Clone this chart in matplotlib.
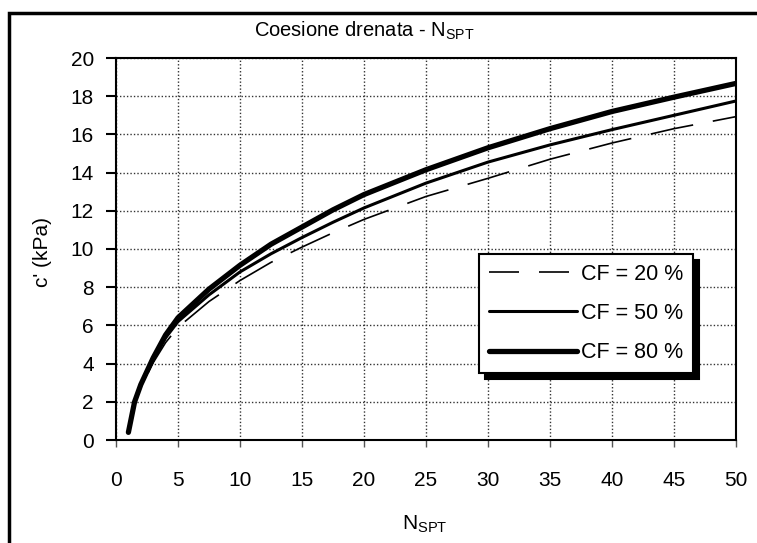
import matplotlib
matplotlib.use("Agg")
import matplotlib.pyplot as plt
from matplotlib.patches import Rectangle

plt.rcParams['font.family'] = ['Liberation Sans', 'DejaVu Sans']
plt.rcParams['mathtext.fontset'] = 'custom'
plt.rcParams['mathtext.rm'] = 'Liberation Sans'
plt.rcParams['mathtext.it'] = 'Liberation Sans'

# Data
n_spt = [1, 1.5, 2, 3, 4, 5, 7.5, 10, 12.5, 15, 17.5, 20, 25, 30, 35, 40, 45, 50]
cf20 = [0.4, 1.9, 2.75, 4.05, 5.1, 5.9, 7.25, 8.35, 9.3, 10.1, 10.85, 11.55, 12.75, 13.7, 14.7, 15.55, 16.3, 16.93]
cf50 = [0.4, 1.95, 2.85, 4.2, 5.35, 6.2, 7.6, 8.8, 9.75, 10.6, 11.4, 12.15, 13.45, 14.55, 15.45, 16.25, 17.0, 17.75]
cf80 = [0.4, 2.0, 2.9, 4.3, 5.5, 6.4, 7.9, 9.15, 10.25, 11.15, 12.05, 12.85, 14.15, 15.3, 16.3, 17.2, 17.95, 18.67]
labels = ["CF = 20 %", "CF = 50 %", "CF = 80 %"]
x_ticks = list(range(0, 51, 5))
y_ticks = list(range(0, 21, 2))
title = "Coesione drenata - N$_{\\mathrm{SPT}}$"
xlabel = "N$_{\\mathrm{SPT}}$"
ylabel = "c' (kPa)"

W, H = 757, 543
fig = plt.figure(figsize=(W / 100, H / 100), dpi=100)
fig.patch.set_facecolor('white')
ax = fig.add_axes([116 / W, 1 - 440 / H, (736 - 116) / W, (440 - 58) / H])

ax.plot(n_spt, cf20, color='black', lw=1.2, dashes=(26, 12), label=labels[0],
        solid_capstyle='round', dash_capstyle='butt')
ax.plot(n_spt, cf50, color='black', lw=2.2, label=labels[1], solid_capstyle='round')
ax.plot(n_spt, cf80, color='black', lw=3.8, label=labels[2], solid_capstyle='round')

ax.set_xlim(0, 50)
ax.set_ylim(0, 20)
ax.set_xticks(x_ticks)
ax.set_yticks(y_ticks)
ax.grid(True, color='#333333', lw=1.0, linestyle=(0, (1, 1.5)))
ax.set_axisbelow(True)
for s in ax.spines.values():
    s.set_linewidth(1.5)
    s.set_color('black')
ax.tick_params(axis='y', direction='out', length=7, width=1.5, pad=9, labelsize=15)
ax.tick_params(axis='x', direction='out', length=5, width=1, color='#555555', pad=17, labelsize=15)

fig.text(364 / W, 1 - 31 / H, title, ha='center', va='center', fontsize=14.5)
fig.text(425 / W, 1 - 524 / H, xlabel, ha='center', va='center', fontsize=15)
fig.text(43 / W, 1 - 252 / H, ylabel, ha='center', va='center', rotation=90, fontsize=15)

leg = ax.legend(loc='upper left', bbox_to_anchor=((479 - 116) / 620, (440 - 254) / 382),
                fontsize=15.5, frameon=True, fancybox=False, edgecolor='black',
                framealpha=1, handlelength=4.1, handletextpad=0.2, labelspacing=0.85,
                borderpad=0.45, borderaxespad=0,
                shadow={'ox': 4, 'oy': -4, 'color': 'black', 'alpha': 1})
leg.get_frame().set_linewidth(1.5)
leg.get_lines()[0].set_dashes((18, 12))

# outer frame of the picture
fig.add_artist(Rectangle((8.5 / W, -0.2), 1.2, 1.2 - 12.5 / H, transform=fig.transFigure,
                         fill=False, lw=2.5, edgecolor='black'))

fig.savefig('out.png', dpi=100)
